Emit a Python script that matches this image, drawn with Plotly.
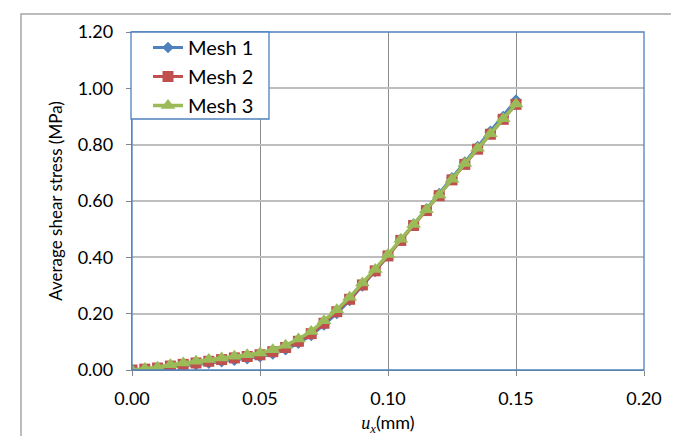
import plotly.graph_objects as go

ux = [0.000, 0.005, 0.010, 0.015, 0.020, 0.025, 0.030, 0.035, 0.040, 0.045,
      0.050, 0.055, 0.060, 0.065, 0.070, 0.075, 0.080, 0.085, 0.090, 0.095,
      0.100, 0.105, 0.110, 0.115, 0.120, 0.125, 0.130, 0.135, 0.140, 0.145, 0.150]

mesh1 = [0.000, 0.002, 0.005, 0.010, 0.014, 0.019, 0.024, 0.030, 0.035, 0.040,
         0.047, 0.057, 0.072, 0.095, 0.123, 0.160, 0.201, 0.247, 0.299, 0.350,
         0.405, 0.462, 0.518, 0.572, 0.626, 0.682, 0.738, 0.793, 0.847, 0.900, 0.958]
mesh2 = [0.000, 0.003, 0.007, 0.014, 0.020, 0.025, 0.031, 0.037, 0.043, 0.048,
         0.054, 0.065, 0.080, 0.102, 0.129, 0.166, 0.207, 0.251, 0.302, 0.352,
         0.405, 0.460, 0.513, 0.566, 0.619, 0.675, 0.730, 0.784, 0.837, 0.890, 0.943]
mesh3 = [0.000, 0.005, 0.010, 0.019, 0.025, 0.031, 0.037, 0.043, 0.049, 0.054,
         0.060, 0.072, 0.088, 0.110, 0.137, 0.175, 0.214, 0.258, 0.309, 0.357,
         0.410, 0.464, 0.517, 0.569, 0.621, 0.677, 0.733, 0.787, 0.839, 0.892, 0.944]

series_names = ["Mesh 1", "Mesh 2", "Mesh 3"]
x_ticks = [0.00, 0.05, 0.10, 0.15, 0.20]
y_ticks = [0.00, 0.20, 0.40, 0.60, 0.80, 1.00, 1.20]

FONT = "Lato, 'Noto Sans', sans-serif"
FS = 18
W, H = 679, 436
L, R, T, B = 124, 43, 24, 74
pw = W - L - R
ph = H - T - B

fig = go.Figure()
styles = [
    dict(color="#4F81BD", symbol="diamond", size=9, lw=3),
    dict(color="#C0504D", symbol="square", size=11, lw=3),
    dict(color="#9BBB59", symbol="triangle-up", size=13, lw=3.5),
]
for name, ys, st in zip(series_names, [mesh1, mesh2, mesh3], styles):
    fig.add_trace(go.Scatter(
        x=ux, y=ys, name=name, mode="lines+markers",
        line=dict(color=st["color"], width=st["lw"]),
        marker=dict(color=st["color"], symbol=st["symbol"], size=st["size"], line=dict(width=0)),
    ))


def px_to_paper_x(px):
    return (px - L) / pw


def py_to_paper_y(py):
    return (H - B - py) / ph


# outer chart frame
fig.add_shape(type="rect", xref="paper", yref="paper",
              x0=px_to_paper_x(13), x1=px_to_paper_x(673),
              y0=py_to_paper_y(445), y1=py_to_paper_y(6),
              line=dict(color="#A6A6A6", width=1.5), fillcolor="rgba(0,0,0,0)", layer="below")
# plot-area border (blue)
fig.add_shape(type="rect", xref="paper", yref="paper", x0=0, x1=1, y0=0, y1=1,
              line=dict(color="#4F81BD", width=1.3), fillcolor="rgba(0,0,0,0)", layer="above")
# legend box (white, blue border) drawn under the legend entries
fig.add_shape(type="rect", xref="paper", yref="paper",
              x0=px_to_paper_x(123), x1=px_to_paper_x(261),
              y0=py_to_paper_y(111), y1=py_to_paper_y(24),
              line=dict(color="#4F81BD", width=1.3), fillcolor="white", layer="above")

fig.update_layout(
    width=W, height=H,
    margin=dict(l=L, r=R, t=T, b=B, autoexpand=False),
    paper_bgcolor="white", plot_bgcolor="white",
    font=dict(family=FONT, size=FS, color="black"),
    showlegend=True,
    legend=dict(x=0, y=py_to_paper_y(20), xanchor="left", yanchor="top",
                bgcolor="rgba(0,0,0,0)", borderwidth=0,
                font=dict(family=FONT, size=20, color="black"),
                indentation=16, tracegroupgap=0),
    xaxis=dict(
        range=[0, 0.2], tickvals=x_ticks, ticktext=[f"{v:.2f}" for v in x_ticks],
        showgrid=True, gridcolor="#8C8C8C", gridwidth=1.3,
        showline=True, linecolor="#868686", linewidth=1.3,
        ticks="outside", ticklen=5, tickcolor="#868686", ticklabelstandoff=7,
        zeroline=False,
        title=dict(text="<span style='font-family:Liberation Serif'><i>u<sub>x</sub></i></span>(mm)",
                   font=dict(size=FS), standoff=8),
    ),
    yaxis=dict(
        range=[0, 1.2], tickvals=y_ticks, ticktext=[f"{v:.2f}" for v in y_ticks],
        showgrid=True, gridcolor="#BEBEBE", gridwidth=2,
        showline=True, linecolor="#868686", linewidth=1.3,
        ticks="outside", ticklen=5, tickcolor="#868686", ticklabelstandoff=9,
        zeroline=False,
        title=dict(text="Average shear stress (MPa)", font=dict(size=17), standoff=10),
    ),
)

fig.write_html("out.html")
